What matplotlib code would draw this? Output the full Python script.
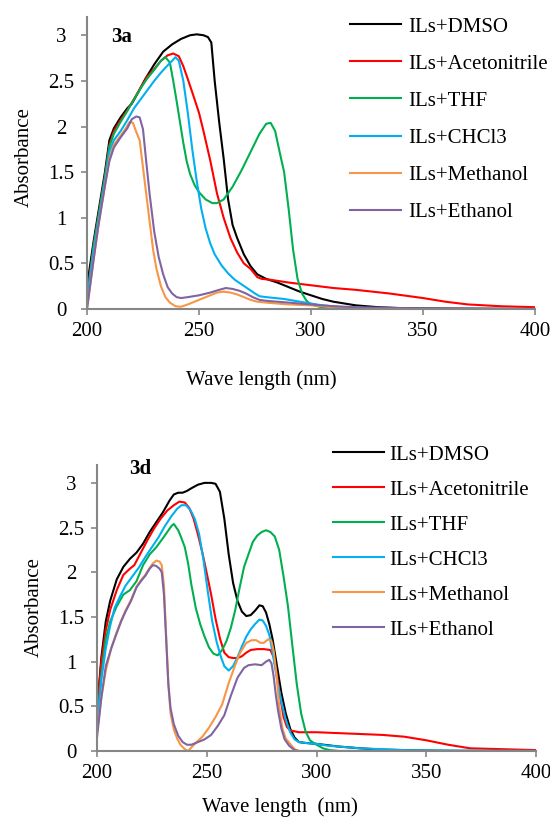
import matplotlib

matplotlib.use("Agg")
import matplotlib.pyplot as plt  # noqa: E402

plt.rcParams.update({
    "font.family": ["Liberation Serif", "DejaVu Serif"], "font.size": 15,
    "axes.spines.top": False, "axes.spines.right": False,
    "axes.edgecolor": "#868686", "axes.linewidth": 1.5,
    "xtick.color": "#868686", "ytick.color": "#868686",
    "xtick.labelcolor": "black", "ytick.labelcolor": "black",
    "xtick.direction": "out", "ytick.direction": "out",
    "xtick.major.size": 4.3, "ytick.major.size": 4.3,
    "xtick.major.width": 1.2, "ytick.major.width": 1.2,
})
W, H = 550, 817

LABELS = ["ILs+DMSO", "ILs+Acetonitrile", "ILs+THF", "ILs+CHCl3", "ILs+Methanol", "ILs+Ethanol"]
COLORS = ["#000000", "#FF0000", "#00B050", "#00B0F0", "#F79646", "#8064A2"]
XTICKS = [200, 250, 300, 350, 400]
YTICKS = [0, 0.5, 1, 1.5, 2, 2.5, 3]
YTICKLABELS = ["0", "0.5", "1", "1.5", "2", "2.5", "3"]

# ---- panel 3a ----
A_DMSO_WL = [200, 203, 205, 208, 210, 212, 215, 218, 220, 223, 226, 230, 234, 238, 242, 246, 249,
             252, 254, 255.5, 257, 259, 261, 263, 265, 267, 270, 273, 276, 280, 285, 290, 295, 300,
             305, 310, 320, 330, 340, 360, 400]
A_DMSO_ABS = [0.25, 0.75, 1.05, 1.5, 1.85, 1.98, 2.1, 2.2, 2.25, 2.38, 2.52, 2.68, 2.82, 2.9, 2.96,
              3.0, 3.01, 3.0, 2.98, 2.92, 2.5, 2.05, 1.65, 1.2, 0.92, 0.78, 0.6, 0.47, 0.38, 0.33,
              0.29, 0.24, 0.19, 0.15, 0.11, 0.08, 0.04, 0.02, 0.01, 0.005, 0.0]
A_ACN_WL = [200, 203, 205, 208, 210, 212, 215, 218, 221, 224, 227, 230, 233, 236, 238.5, 241, 243,
            245, 248, 250, 252, 255, 258, 261, 264, 267, 270, 273, 276, 278, 282, 290, 300, 310, 320,
            335, 350, 360, 370, 385, 400]
A_ACN_ABS = [0.15, 0.7, 1.0, 1.45, 1.8, 1.95, 2.07, 2.18, 2.3, 2.43, 2.55, 2.63, 2.72, 2.78, 2.8,
             2.77, 2.66, 2.52, 2.3, 2.15, 1.95, 1.63, 1.27, 1.0, 0.78, 0.62, 0.5, 0.44, 0.35, 0.33,
             0.32, 0.29, 0.26, 0.23, 0.21, 0.17, 0.12, 0.08, 0.05, 0.03, 0.02]
A_THF_WL = [200, 203, 205, 208, 210, 212, 215, 218, 221, 224, 227, 230, 233, 235, 237, 238.5, 240,
            241.5, 243, 244.5, 246, 248, 250, 253, 256, 258, 261, 265, 269, 273, 277, 280, 282, 284,
            286, 288, 290, 292, 294, 296, 298, 300, 303, 306, 310, 330, 400]
A_THF_ABS = [0.1, 0.7, 1.0, 1.45, 1.78, 1.92, 2.05, 2.17, 2.3, 2.42, 2.53, 2.62, 2.72, 2.76, 2.7,
             2.5, 2.28, 2.05, 1.82, 1.62, 1.48, 1.36, 1.28, 1.2, 1.16, 1.16, 1.2, 1.34, 1.52, 1.72,
             1.92, 2.03, 2.04, 1.95, 1.72, 1.5, 1.1, 0.65, 0.33, 0.17, 0.09, 0.05, 0.03, 0.01, 0.0,
             0.0, 0.0]
A_CHCL3_WL = [200, 203, 205, 208, 210, 212, 215, 218, 221, 224, 227, 230, 233, 236, 238, 239.5, 241,
              243, 245, 247, 249, 251, 253, 255, 257, 260, 263, 266, 269, 272, 275, 277, 280, 288,
              295, 300, 305, 310, 320, 340, 400]
A_CHCL3_ABS = [0.1, 0.65, 0.95, 1.4, 1.72, 1.85, 1.95, 2.07, 2.2, 2.3, 2.4, 2.5, 2.59, 2.67, 2.72,
               2.76, 2.72, 2.5, 2.15, 1.75, 1.4, 1.1, 0.88, 0.72, 0.6, 0.48, 0.39, 0.32, 0.27, 0.22,
               0.17, 0.14, 0.13, 0.11, 0.08, 0.06, 0.04, 0.03, 0.01, 0.0, 0.0]
A_MEOH_WL = [200, 203, 205, 208, 210, 212, 215, 217, 219, 220.5, 222, 223.5, 225, 226.5, 228, 229.5,
             231, 233, 235, 237, 239.5, 242, 245, 250, 255, 258, 261, 264, 267, 270, 273, 276, 280,
             290, 300, 310, 320, 340, 400]
A_MEOH_ABS = [0.0, 0.55, 0.9, 1.35, 1.65, 1.8, 1.9, 1.97, 2.05, 2.04, 1.94, 1.85, 1.55, 1.25, 0.95,
              0.65, 0.44, 0.25, 0.13, 0.07, 0.03, 0.025, 0.05, 0.1, 0.15, 0.18, 0.19, 0.18, 0.16,
              0.13, 0.1, 0.08, 0.07, 0.05, 0.04, 0.02, 0.01, 0.0, 0.0]
A_ETOH_WL = [200, 203, 205, 208, 210, 212, 215, 218, 220, 222, 223.5, 225, 226.5, 228, 230, 232, 234,
             236, 238, 240, 242, 245, 250, 255, 259, 262, 265, 268, 271, 274, 277, 280, 290, 300,
             310, 320, 340, 400]
A_ETOH_ABS = [0.0, 0.55, 0.9, 1.35, 1.62, 1.77, 1.88, 1.98, 2.08, 2.11, 2.1, 1.97, 1.6, 1.25, 0.85,
              0.57, 0.38, 0.24, 0.17, 0.13, 0.12, 0.13, 0.15, 0.18, 0.21, 0.23, 0.22, 0.2, 0.17,
              0.13, 0.1, 0.09, 0.07, 0.05, 0.03, 0.02, 0.01, 0.0]

# ---- panel 3d ----
D_DMSO_WL = [200, 202, 204, 206, 209, 212, 215, 218, 221, 224, 227, 230, 233, 235, 237, 239, 241,
             243, 246, 249, 252, 254, 256, 258, 260, 262, 264, 266, 268, 270, 272, 274, 275.5, 277,
             278.5, 280, 282, 284, 286, 288, 290, 292, 295, 300, 310, 320, 330, 340, 360, 400]
D_DMSO_ABS = [0.45, 1.05, 1.45, 1.68, 1.92, 2.06, 2.15, 2.22, 2.32, 2.45, 2.56, 2.67, 2.8, 2.87,
              2.89, 2.89, 2.91, 2.94, 2.98, 3.0, 3.0, 2.99, 2.9, 2.6, 2.2, 1.88, 1.68, 1.56, 1.51,
              1.52, 1.57, 1.63, 1.62, 1.55, 1.42, 1.25, 0.95, 0.65, 0.42, 0.25, 0.15, 0.1, 0.09,
              0.08, 0.05, 0.03, 0.015, 0.01, 0.0, 0.0]
D_ACN_WL = [200, 202, 204, 206, 209, 212, 215, 217, 220, 223, 226, 229, 232, 235, 237.5, 240, 242,
            244, 246, 248, 250, 252, 254, 256, 258, 260, 262, 264, 266, 268, 270, 273, 276, 279,
            280.5, 282, 283.5, 285, 286.5, 288, 292, 300, 310, 320, 330, 340, 350, 360, 370, 385, 400]
D_ACN_ABS = [0.45, 1.0, 1.35, 1.58, 1.8, 1.97, 2.04, 2.08, 2.22, 2.36, 2.49, 2.6, 2.69, 2.75, 2.79,
             2.78, 2.72, 2.6, 2.42, 2.22, 1.99, 1.75, 1.48, 1.26, 1.1, 1.05, 1.04, 1.04, 1.06, 1.1,
             1.13, 1.14, 1.14, 1.13, 1.05, 0.85, 0.6, 0.38, 0.27, 0.23, 0.21, 0.21, 0.2, 0.19, 0.18,
             0.16, 0.12, 0.07, 0.03, 0.02, 0.01]
D_THF_WL = [200, 202, 204, 206, 209, 212, 215, 218, 221, 224, 227, 230, 232, 234, 235, 237, 238.5,
            240, 241.5, 243, 245, 247, 249, 251, 253, 255, 257, 259, 261, 263, 265, 267, 269, 271,
            273, 275, 277, 279, 281, 283, 285, 287, 289, 291, 293, 295, 297, 300, 303, 306, 310, 400]
D_THF_ABS = [0.3, 0.85, 1.25, 1.45, 1.62, 1.75, 1.8, 1.9, 2.08, 2.2, 2.28, 2.38, 2.45, 2.52, 2.54,
             2.47, 2.38, 2.28, 2.1, 1.86, 1.6, 1.42, 1.28, 1.16, 1.09, 1.07, 1.13, 1.23, 1.38, 1.58,
             1.83, 2.06, 2.2, 2.34, 2.41, 2.45, 2.47, 2.45, 2.4, 2.25, 1.95, 1.62, 1.18, 0.75, 0.42,
             0.22, 0.12, 0.07, 0.03, 0.01, 0.0, 0.0]
D_CHCL3_WL = [200, 202, 204, 206, 208, 210.5, 213, 216, 219, 222, 225, 228, 231, 234, 236.5, 238.5,
              240.5, 242.5, 244.5, 246.5, 248.5, 250.5, 252.5, 254.5, 256.5, 258, 260, 262, 264,
              266, 268, 270, 272, 274, 275.5, 277, 278.5, 280, 282, 284, 286, 288, 290, 292, 295,
              300, 305, 310, 320, 330, 340, 400]
D_CHCL3_ABS = [0.3, 0.8, 1.15, 1.4, 1.6, 1.73, 1.85, 1.95, 2.05, 2.17, 2.28, 2.39, 2.52, 2.63, 2.71,
               2.75, 2.75, 2.7, 2.6, 2.43, 2.14, 1.78, 1.45, 1.22, 1.05, 0.95, 0.9, 0.95, 1.05, 1.17,
               1.28, 1.36, 1.42, 1.47, 1.46, 1.4, 1.3, 1.1, 0.8, 0.55, 0.35, 0.21, 0.13, 0.1, 0.09,
               0.08, 0.06, 0.05, 0.03, 0.02, 0.01, 0.0]
D_MEOH_WL = [200, 202, 204, 206.5, 209, 211, 213, 215.5, 218, 220, 222, 224, 225.5, 227, 228.5,
             229.5, 230.5, 231.5, 232.5, 233.5, 235, 236.5, 238, 240, 241.5, 243, 245, 248, 251, 254,
             257, 260, 262.5, 265, 268, 270.5, 272.5, 274.5, 276, 278, 279.5, 280.5, 281.8, 283,
             284.5, 286, 288, 290, 292, 400]
D_MEOH_ABS = [0.2, 0.6, 0.9, 1.15, 1.33, 1.46, 1.57, 1.69, 1.84, 1.91, 1.97, 2.05, 2.1, 2.13, 2.12,
              2.08, 1.85, 1.3, 0.75, 0.42, 0.24, 0.14, 0.07, 0.02, 0.0, 0.04, 0.09, 0.16, 0.26, 0.38,
              0.52, 0.76, 0.93, 1.09, 1.21, 1.24, 1.24, 1.21, 1.21, 1.25, 1.23, 1.12, 0.85, 0.5,
              0.25, 0.14, 0.08, 0.02, 0.0, 0.0]
D_ETOH_WL = [200, 202, 204, 206.5, 209, 211, 213, 215.5, 218, 220, 222, 224, 225.5, 227, 228.5,
             229.5, 230.5, 231.5, 232.5, 233.5, 235, 237, 239, 241, 243, 246, 249, 252, 255, 258,
             261, 264, 267, 269, 272, 275, 277, 278.5, 279.5, 280.5, 281.5, 282.5, 284, 285.5, 287.5,
             290, 292, 400]
D_ETOH_ABS = [0.15, 0.6, 0.95, 1.15, 1.32, 1.45, 1.56, 1.68, 1.83, 1.9, 1.96, 2.04, 2.08, 2.07, 2.04,
              2.0, 1.75, 1.25, 0.75, 0.48, 0.3, 0.17, 0.1, 0.07, 0.07, 0.1, 0.13, 0.18, 0.28, 0.4,
              0.62, 0.82, 0.93, 0.96, 0.97, 0.96, 1.0, 1.02, 0.98, 0.83, 0.62, 0.45, 0.25, 0.13,
              0.06, 0.01, 0.0, 0.0]

PANEL_A = [(A_DMSO_WL, A_DMSO_ABS), (A_ACN_WL, A_ACN_ABS), (A_THF_WL, A_THF_ABS),
           (A_CHCL3_WL, A_CHCL3_ABS), (A_MEOH_WL, A_MEOH_ABS), (A_ETOH_WL, A_ETOH_ABS)]
PANEL_D = [(D_DMSO_WL, D_DMSO_ABS), (D_ACN_WL, D_ACN_ABS), (D_THF_WL, D_THF_ABS),
           (D_CHCL3_WL, D_CHCL3_ABS), (D_MEOH_WL, D_MEOH_ABS), (D_ETOH_WL, D_ETOH_ABS)]


def px(x, y):
    """pixel position in the 550x817 picture -> figure fraction"""
    return x / W, 1 - y / H


def panel(fig, box, series, tag, tag_px, ylab_px, xlab, xlab_px, leg_px, spacing, pad):
    l, t, r, b = box
    ax = fig.add_axes([l / W, 1 - b / H, (r - l) / W, (b - t) / H])
    for (wl, ab), lab, c in zip(series, LABELS, COLORS):
        ax.plot(wl, ab, color=c, lw=1.5, label=lab, solid_joinstyle="round")
    ax.set_xlim(200, 400)
    ax.set_ylim(0, 3.2)
    ax.set_xticks(XTICKS)
    ax.set_yticks(YTICKS)
    ax.set_yticklabels(YTICKLABELS)
    for lbl in ax.get_yticklabels():
        lbl.set_horizontalalignment("center")
    ax.tick_params(axis="y", pad=14)
    ax.tick_params(axis="x", pad=5)
    fig.text(*px(*tag_px), tag, ha="center", va="center", fontweight="bold")
    fig.text(*px(*ylab_px), "Absorbance", rotation=90, ha="center", va="center")
    fig.text(*px(*xlab_px), xlab, ha="center", va="center")
    ax.legend(loc="upper left", bbox_to_anchor=px(*leg_px), bbox_transform=fig.transFigure,
              frameon=False, borderpad=0, borderaxespad=0, handlelength=2.45,
              handletextpad=pad, labelspacing=spacing)
    return ax


fig = plt.figure(figsize=(5.5, 8.17), dpi=100)
panel(fig, (87, 17, 535, 309), PANEL_A, "3a", (122, 37.5), (24, 157),
      "Wave length (nm)", (261, 380), (350, 17), 0.84, 0.34)
panel(fig, (97, 465, 536, 751), PANEL_D, "3d", (140, 469), (34, 607),
      "Wave length  (nm)", (280, 807), (333, 445), 0.74, 0.25)
fig.savefig("out.png", dpi=100)
